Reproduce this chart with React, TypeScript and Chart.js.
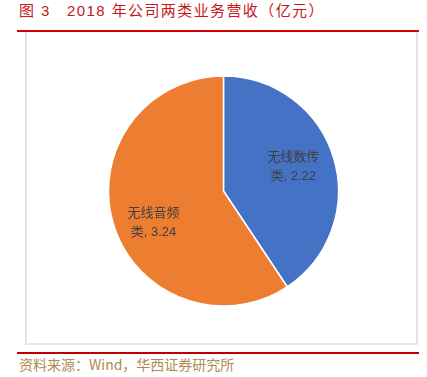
import React, { useEffect, useRef } from "react";
import { Chart, registerables } from "chart.js";

Chart.register(...registerables);

const categories = ["无线数传类", "无线音频类"];
const labelLines = [["无线数传", "类, 2.22"], ["无线音频", "类, 3.24"]];
const values = [2.22, 3.24];
const colors = ["#4472C4", "#ED7D31"];

const titleText = "图 3　2018 年公司两类业务营收（亿元）";
const sourceText = "资料来源：Wind，华西证券研究所";

// label placement (style): angle offset in degrees and radius factor per slice
const labelAngleOffset = [-2, -8];
const labelRadiusFactor = [0.64, 0.67];

const labelPlugin = {
  id: "sliceLabels",
  afterDatasetsDraw(chart: any) {
    const ctx = chart.ctx;
    const meta = chart.getDatasetMeta(0);
    ctx.save();
    ctx.font = '13px "Liberation Sans", "Noto Sans CJK SC", sans-serif';
    ctx.fillStyle = "#404040";
    ctx.textAlign = "center";
    ctx.textBaseline = "middle";
    meta.data.forEach((arc: any, i: number) => {
      const p = arc.getProps(["x", "y", "startAngle", "endAngle", "outerRadius"], true);
      const mid = (p.startAngle + p.endAngle) / 2 + (labelAngleOffset[i] * Math.PI) / 180;
      const r = p.outerRadius * labelRadiusFactor[i];
      const cx = p.x + Math.cos(mid) * r;
      const cy = p.y + Math.sin(mid) * r;
      const lines = labelLines[i];
      const lh = 19;
      lines.forEach((t, j) => {
        ctx.fillText(t, cx, cy + (j - (lines.length - 1) / 2) * lh);
      });
    });
    ctx.restore();
  },
};

export default function App() {
  const ref = useRef<HTMLCanvasElement>(null);
  useEffect(() => {
    if (!ref.current) return;
    const chart = new Chart(ref.current, {
      type: "pie",
      data: {
        labels: categories,
        datasets: [
          {
            data: values,
            backgroundColor: colors,
            borderColor: "#ffffff",
            borderWidth: 1.5,
          },
        ],
      },
      options: {
        animation: false,
        responsive: false,
        radius: 115,
        layout: { padding: 0 },
        plugins: {
          legend: { display: false },
          tooltip: { enabled: false },
        },
      },
      plugins: [labelPlugin],
    });
    return () => chart.destroy();
  }, []);

  return (
    <div
      style={{
        position: "fixed",
        left: 0,
        top: 0,
        width: 427,
        height: 377,
        background: "#fff",
        fontFamily: '"Noto Sans CJK SC", sans-serif',
      }}
    >
      <div
        style={{
          position: "absolute",
          left: 19,
          top: 1,
          fontSize: 15,
          lineHeight: "20px",
          color: "#C8161D",
          letterSpacing: 1.4,
          whiteSpace: "nowrap",
          fontFamily: '"Liberation Sans", "Noto Sans CJK SC", sans-serif',
        }}
      >
        {titleText}
      </div>
      <div
        style={{
          position: "absolute",
          left: 17,
          top: 30,
          width: 402,
          height: 2,
          background: "#D50000",
        }}
      />
      <div
        style={{
          position: "absolute",
          left: 25,
          top: 32,
          width: 389,
          height: 311,
          border: "2px solid #E6E6E6",
          borderTop: "none",
        }}
      />
      <canvas
        ref={ref}
        width={241}
        height={240}
        style={{ position: "absolute", left: 103, top: 71, width: 241, height: 240 }}
      />
      <div
        style={{
          position: "absolute",
          left: 17,
          top: 352,
          width: 402,
          height: 2,
          background: "#C00000",
        }}
      />
      <div
        style={{
          position: "absolute",
          left: 19,
          top: 355,
          fontSize: 14,
          lineHeight: "18px",
          color: "#B08A52",
          whiteSpace: "nowrap",
        }}
      >
        {sourceText}
      </div>
    </div>
  );
}
